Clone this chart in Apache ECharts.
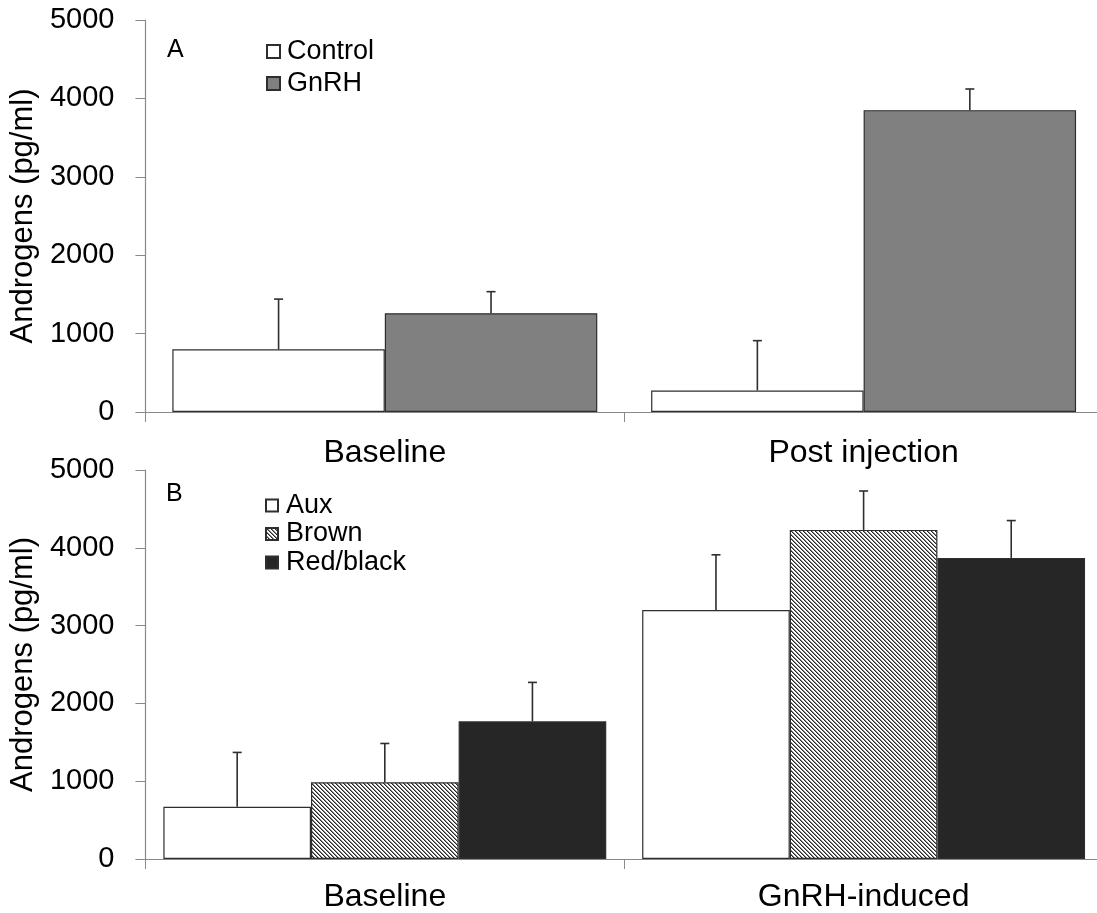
<!DOCTYPE html>
<html>
<head>
<meta charset="utf-8">
<title>Androgens</title>
<script src="https://cdn.jsdelivr.net/npm/echarts@6/dist/echarts.min.js"></script>
<style>
  html, body { margin: 0; padding: 0; background: #fff; overflow: hidden; }
  /* the x axes run slightly past the right edge of the page */
  #chart { width: 1112px; height: 913px; }
</style>
</head>
<body>
<div id="chart"></div>
<script>
// Panel A: androgen levels, control vs GnRH
const categoriesA = ['Baseline', 'Post injection'];
const controlA = [800, 275];
const controlErrA = [640, 635];
const gnrhA = [1260, 3850];
const gnrhErrA = [275, 270];

// Panel B: androgen levels by morph
const categoriesB = ['Baseline', 'GnRH-induced'];
const auxB = [670, 3200];
const auxErrB = [700, 710];
const brownB = [985, 4230];
const brownErrB = [500, 500];
const redB = [1770, 3870];
const redErrB = [500, 480];

const yTicks = [0, 1000, 2000, 3000, 4000, 5000];

const FONT = '"Liberation Sans", Arial, sans-serif';
const AXIS_GREY = '#898989';
const EDGE = '#2e2e2e';

// diagonal hatch fill
function hatch() {
  const c = document.createElement('canvas');
  c.width = 4; c.height = 4;
  const ctx = c.getContext('2d');
  ctx.fillStyle = '#ffffff';
  ctx.fillRect(0, 0, 4, 4);
  for (let i = 0; i < 4; i++) {
    ctx.fillStyle = '#262626';
    ctx.fillRect(i, i, 1, 1);
    ctx.fillStyle = '#8a8a8a';
    ctx.fillRect((i + 1) % 4, i, 1, 1);
  }
  return { image: c, repeat: 'repeat' };
}

// upper error whisker positioned over bar `pos` of `n` in each category
function errorRenderer(pos, n, gap) {
  return function (params, api) {
    const ci = api.value(0), v = api.value(1), e = api.value(2);
    const band = api.size([1, 0])[0];
    const total = band * (1 - gap);
    const bw = total / n;
    const base = api.coord([ci, v]);
    const top = api.coord([ci, v + e]);
    const x = base[0] - total / 2 + bw * (pos + 0.5);
    const st = { stroke: EDGE, lineWidth: 1.6 };
    return {
      type: 'group',
      children: [
        { type: 'line', shape: { x1: x, y1: base[1], x2: x, y2: top[1] }, style: st },
        { type: 'line', shape: { x1: x - 4.5, y1: top[1], x2: x + 4.5, y2: top[1] }, style: st }
      ]
    };
  };
}

function errData(vals, errs) {
  return vals.map((v, i) => [i, v, errs[i]]);
}

function barSeries(name, data, color, idx, gap) {
  return {
    name, type: 'bar', data,
    xAxisIndex: idx, yAxisIndex: idx,
    barGap: '0%', barCategoryGap: (gap * 100) + '%',
    itemStyle: { color, borderColor: EDGE, borderWidth: 1.2 },
    emphasis: { disabled: true },
    z: 2
  };
}

function errSeries(vals, errs, pos, n, gap, idx) {
  return {
    type: 'custom',
    xAxisIndex: idx, yAxisIndex: idx,
    data: errData(vals, errs),
    renderItem: errorRenderer(pos, n, gap),
    z: 3, silent: true
  };
}

function xAxisCfg(cats, idx, margin) {
  return {
    type: 'category', gridIndex: idx, data: cats,
    axisLine: { lineStyle: { color: AXIS_GREY, width: 1.2 } },
    axisTick: { show: true, length: 10, lineStyle: { color: AXIS_GREY } },
    axisLabel: { fontSize: 32, color: '#000', fontFamily: FONT, margin, interval: 0 }
  };
}

function yAxisCfg(idx) {
  return {
    type: 'value', gridIndex: idx, min: yTicks[0], max: yTicks[yTicks.length - 1],
    interval: yTicks[1] - yTicks[0],
    name: 'Androgens (pg/ml)', nameLocation: 'middle', nameGap: 91,
    nameTextStyle: { fontSize: 31, color: '#000', fontFamily: FONT },
    axisLine: { show: true, lineStyle: { color: AXIS_GREY, width: 1.2 } },
    axisTick: { show: true, length: 10, lineStyle: { color: AXIS_GREY } },
    axisLabel: {
      fontSize: 29, color: '#000', fontFamily: FONT, margin: 31,
      formatter: (v) => String(v)
    },
    splitLine: { show: false }
  };
}

const gapA = 0.1125;
const gapB = 0.075;
const brownFill = hatch();

const option = {
  animation: false,
  backgroundColor: '#fff',
  grid: [
    { left: 144, top: 20, width: 959, height: 392 },
    { left: 144, top: 470, width: 959, height: 390 }
  ],
  xAxis: [xAxisCfg(categoriesA, 0, 25), xAxisCfg(categoriesB, 1, 22)],
  yAxis: [yAxisCfg(0), yAxisCfg(1)],
  legend: [
    {
      orient: 'vertical', left: 266, top: 38, padding: 0, itemWidth: 13, itemHeight: 13, itemGap: 5,
      icon: 'rect', data: ['Control', 'GnRH'], selectedMode: false,
      textStyle: { fontSize: 27, color: '#000', fontFamily: FONT, padding: [0, 0, 0, 2] }
    },
    {
      orient: 'vertical', left: 265, top: 492, padding: 0, itemWidth: 12, itemHeight: 12, itemGap: 1.5,
      icon: 'rect', data: ['Aux', 'Brown', 'Red/black'], selectedMode: false,
      textStyle: { fontSize: 27, color: '#000', fontFamily: FONT, padding: [0, 0, 0, 3] }
    }
  ],
  graphic: [
    { type: 'text', left: 167, top: 38, style: { text: 'A', fill: '#000', font: '25px ' + FONT } },
    { type: 'text', left: 166, top: 482, style: { text: 'B', fill: '#000', font: '25px ' + FONT } }
  ],
  series: [
    barSeries('Control', controlA, '#ffffff', 0, gapA),
    barSeries('GnRH', gnrhA, '#808080', 0, gapA),
    errSeries(controlA, controlErrA, 0, 2, gapA, 0),
    errSeries(gnrhA, gnrhErrA, 1, 2, gapA, 0),

    barSeries('Aux', auxB, '#ffffff', 1, gapB),
    barSeries('Brown', brownB, brownFill, 1, gapB),
    barSeries('Red/black', redB, '#262626', 1, gapB),
    errSeries(auxB, auxErrB, 0, 3, gapB, 1),
    errSeries(brownB, brownErrB, 1, 3, gapB, 1),
    errSeries(redB, redErrB, 2, 3, gapB, 1)
  ]
};

const chart = echarts.init(document.getElementById('chart'), null, { renderer: 'canvas' });
chart.setOption(option);
</script>
</body>
</html>
